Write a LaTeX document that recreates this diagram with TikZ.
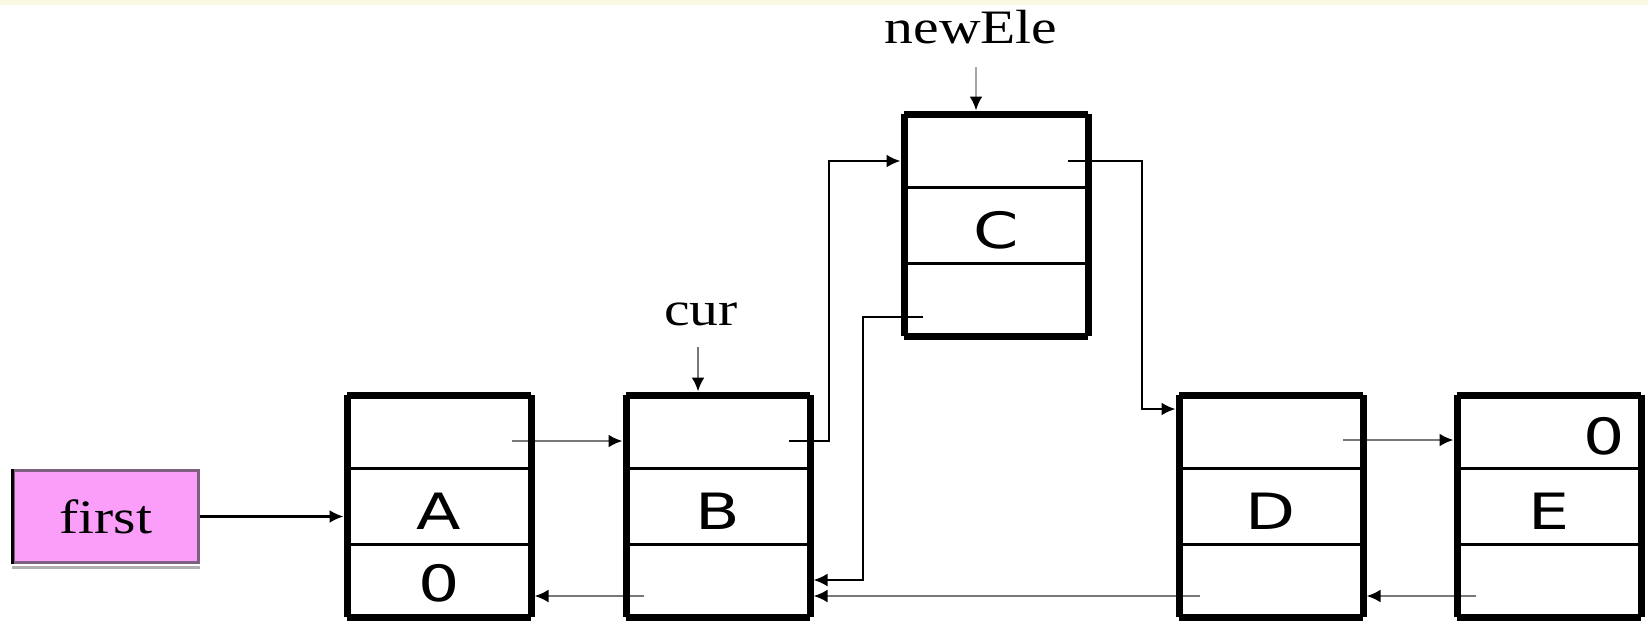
\documentclass[tikz,border=0pt]{standalone}
\usepackage{fontspec}
\newfontfamily\serifT[FakeStretch=1.2]{Liberation Serif}
\newfontfamily\sansL[FakeStretch=1.3]{DejaVu Sans}
\usetikzlibrary{arrows.meta,calc}
\definecolor{band}{RGB}{250,250,226}
\definecolor{pinkfill}{RGB}{250,158,250}
\definecolor{pinkdraw}{RGB}{128,96,128}
\definecolor{connGray}{RGB}{120,120,120}
\definecolor{lightGray}{RGB}{165,165,165}
\definecolor{shadowGray}{RGB}{176,176,176}
\begin{document}
\begin{tikzpicture}[x=0.5pt,y=-0.5pt,
  cellbox/.style={draw=none, minimum width=92pt, minimum height=111pt, inner sep=0pt, outer sep=0pt},
  frame/.style={line width=3.5pt, line cap=square},
  divider/.style={line width=1.5pt},
  lettr/.style={font=\sansL\fontsize{25}{30}\selectfont, inner sep=0pt, anchor=base},
  tagtext/.style={font=\serifT\fontsize{24}{29}\selectfont, inner sep=0pt, anchor=base},
  firstbox/.style={draw=pinkdraw, fill=pinkfill, line width=1.5pt, minimum width=92.5pt, minimum height=46pt, inner sep=0pt, font=\serifT\fontsize{24}{29}\selectfont},
  tipb/.style={-{Latex[length=7pt,width=6.5pt,color=black]}, shorten >=1.75pt},
  bconn/.style={tipb, line width=1.2pt, black},
  gconn/.style={tipb, line width=1.3pt, connGray},
]
\useasboundingbox (0,0) rectangle (1648,622);
\fill[band] (0,0) rectangle (1648,5);

% list cells
\node[cellbox] (A) at (439,506) {};
\node[cellbox] (B) at (718,506) {};
\node[cellbox] (C) at (996,225) {};
\node[cellbox] (D) at (1271,506) {};
\node[cellbox] (E) at (1549,506) {};

% first pointer box
\node[firstbox] (first) at (106,516.5) {first};
\draw[black, line width=1.5pt] (first.north west) -- (first.south west);
\draw[shadowGray, line width=1.5pt] ([yshift=-1.5pt]first.south west) -- ([yshift=-1.5pt]first.south east);

% labels
\node[tagtext] (newEle) at (971,43) {newEle};
\node[tagtext] (cur) at (701,325) {cur};

% connectors
\draw[bconn] (first.east) -- (first.east -| A.west);
\coordinate (a1) at (512,441);
\draw[gconn] (a1) -- (a1 -| B.west);
\coordinate (b3) at (644,596);
\draw[gconn] (b3) -- (b3 -| A.east);
\coordinate (b1) at (789,441);
\coordinate (bc) at (829,161);
\draw[bconn] (b1) -| (bc) -- (bc -| C.west);
\coordinate (c1) at (1068,161);
\coordinate (cd) at (1142,409);
\draw[bconn] (c1) -| (cd) -- (cd -| D.west);
\coordinate (c3) at (923,317);
\coordinate (cb) at (863,580);
\draw[bconn] (c3) -| (cb) -- (cb -| B.east);
\coordinate (d3) at (1200,596);
\draw[gconn] (d3) -- (d3 -| B.east);
\coordinate (d1) at (1343,440);
\draw[gconn] (d1) -- (d1 -| E.west);
\coordinate (e3) at (1476,596);
\draw[gconn] (e3) -- (e3 -| D.east);
\coordinate (curp) at (698,347);
\draw[gconn] (curp) -- (curp |- B.north);
\coordinate (newp) at (976,67);
\draw[gconn, draw=lightGray] (newp) -- (newp |- C.north);

% cell frames and dividers
\foreach \n in {A,B,C,D,E}{
  \draw[divider] ([yshift=-36.5pt]\n.north west) -- ([yshift=-36.5pt]\n.north east);
  \draw[divider] ([yshift=-74.5pt]\n.north west) -- ([yshift=-74.5pt]\n.north east);
  \draw[frame] (\n.north west) -- (\n.north east);
  \draw[frame] (\n.south west) -- (\n.south east);
  \draw[frame] (\n.north west) -- (\n.south west);
  \draw[frame] (\n.north east) -- (\n.south east);
}

% cell texts
\node[lettr] (tA) at (439,529) {A};
\node[lettr] (zA) at (439,601) {0};
\node[lettr] (tB) at (718,529) {B};
\node[lettr] (tC) at (996,248) {C};
\node[lettr] (tD) at (1271,529) {D};
\node[lettr] (tE) at (1549,529) {E};
\node[lettr] (zE) at (1604,454) {0};
\end{tikzpicture}
\end{document}
